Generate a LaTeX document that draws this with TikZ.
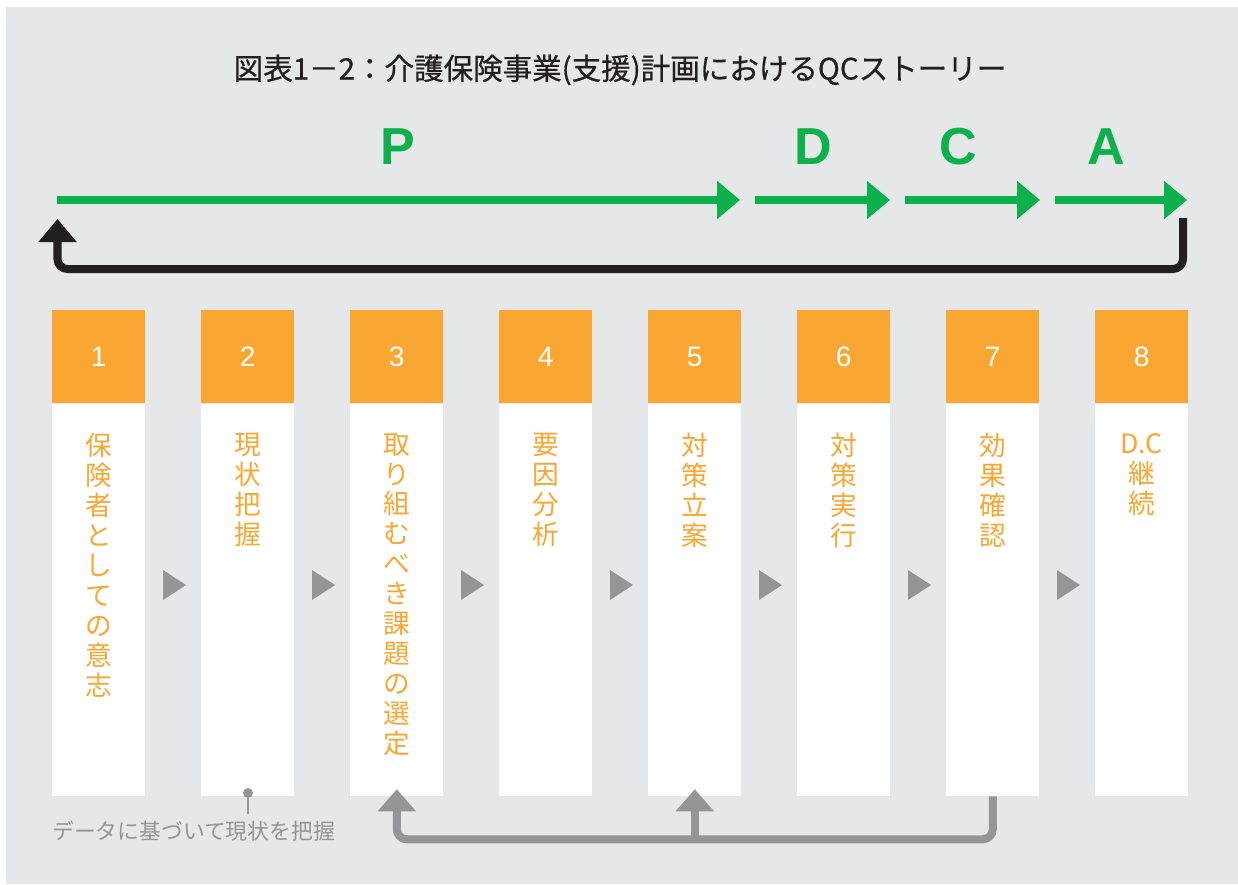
\documentclass[tikz,border=0pt]{standalone}
\usepackage{fontspec}
\setmainfont{Liberation Sans}
\newfontfamily\jp{Noto Sans CJK JP}
\newfontfamily\jptitle[FakeBold=0.6]{Noto Sans CJK JP}
\usetikzlibrary{arrows.meta}
\definecolor{qcgreen}{HTML}{0DB14B}
\definecolor{qcorange}{HTML}{F9A633}
\definecolor{qcblack}{HTML}{231F20}
\definecolor{qcgray}{HTML}{939598}
\definecolor{qcbg}{HTML}{E6E7E8}

\begin{document}
\begin{tikzpicture}[x=0.025cm,y=-0.025cm,
    numbox/.style={fill=qcorange,text=white,minimum width=2.325cm,minimum height=2.325cm,inner sep=0pt,anchor=north west,font=\fontsize{20}{20}\selectfont},
    colbox/.style={fill=white,minimum width=2.325cm,minimum height=9.8cm,inner sep=0pt,anchor=north},
    vtext/.style={text=qcorange,align=center,anchor=north,inner sep=0pt,font=\jp\fontsize{19}{21.3}\selectfont},
    pdca/.style={text=qcgreen,anchor=base,inner sep=0pt,font=\fontsize{37}{37}\selectfont\bfseries},
    flow/.style={qcgreen,line width=0.2cm,-{Triangle[length=0.575cm,width=0.925cm]}},
    back/.style={qcblack,line width=0.2cm,rounded corners=0.25cm,-{Triangle[length=0.575cm,width=0.925cm]}},
    check/.style={qcgray,line width=0.2cm,rounded corners=0.25cm},
    checktip/.style={check,-{Triangle[length=0.55cm,width=0.925cm]},shorten >=-0.175cm},
    nexttri/.style={fill=qcgray}]
    \useasboundingbox (0,0) rectangle (1238,884);
    \fill[white] (0,0) rectangle (1238,884);
    \fill[qcbg] (6,7) rectangle (1238,884);
    % title
    \node[text=qcblack,font=\jptitle\fontsize{21}{21}\selectfont] (title) at (620,70) {図表1－2：介護保険事業(支援)計画におけるQCストーリー};
    % PDCA
    \node[pdca] (P) at (398,164) {P};
    \node[pdca] (D) at (813,164) {D};
    \node[pdca] (C) at (958,164) {C};
    \node[pdca] (A) at (1106,164) {A};
    \coordinate (g0) at (57,200);
    \coordinate (g1) at (740,200);
    \coordinate (g2) at (755,200);
    \coordinate (g3) at (890,200);
    \coordinate (g4) at (905,200);
    \coordinate (g5) at (1040,200);
    \coordinate (g6) at (1055,200);
    \coordinate (g7) at (1187,200);
    \draw[flow] (g0)--(g1);
    \draw[flow] (g2)--(g3);
    \draw[flow] (g4)--(g5);
    \draw[flow] (g6)--(g7);
    \coordinate (r0) at (1183,218);
    \coordinate (r1) at (57.5,219);
    \draw[back] (r0)--(1183,269)-|(r1);
    % steps
    \node[numbox] (n1) at (52,310) {1};
    \node[numbox] (n2) at (201,310) {2};
    \node[numbox] (n3) at (350,310) {3};
    \node[numbox] (n4) at (499,310) {4};
    \node[numbox] (n5) at (648,310) {5};
    \node[numbox] (n6) at (797,310) {6};
    \node[numbox] (n7) at (946,310) {7};
    \node[numbox] (n8) at (1095,310) {8};
    \node[colbox] (w1) at (n1.south) {};
    \node[colbox] (w2) at (n2.south) {};
    \node[colbox] (w3) at (n3.south) {};
    \node[colbox] (w4) at (n4.south) {};
    \node[colbox] (w5) at (n5.south) {};
    \node[colbox] (w6) at (n6.south) {};
    \node[colbox] (w7) at (n7.south) {};
    \node[colbox] (w8) at (n8.south) {};
    \node[vtext] (t1) at (98.5,433) {保\\険\\者\\と\\し\\て\\の\\意\\志};
    \node[vtext] (t2) at (247.5,433) {現\\状\\把\\握};
    \node[vtext] (t3) at (396.5,433) {取\\り\\組\\む\\べ\\き\\課\\題\\の\\選\\定};
    \node[vtext] (t4) at (545.5,433) {要\\因\\分\\析};
    \node[vtext] (t5) at (694.5,433) {対\\策\\立\\案};
    \node[vtext] (t6) at (843.5,433) {対\\策\\実\\行};
    \node[vtext] (t7) at (992.5,433) {効\\果\\確\\認};
    \node[vtext] (t8) at (1141.5,433) {D.C\\継\\続};
    \fill[nexttri] (163,570)--(186,585)--(163,600)--cycle;
    \fill[nexttri] (312,570)--(335,585)--(312,600)--cycle;
    \fill[nexttri] (461,570)--(484,585)--(461,600)--cycle;
    \fill[nexttri] (610,570)--(633,585)--(610,600)--cycle;
    \fill[nexttri] (759,570)--(782,585)--(759,600)--cycle;
    \fill[nexttri] (908,570)--(931,585)--(908,600)--cycle;
    \fill[nexttri] (1057,570)--(1080,585)--(1057,600)--cycle;
    % check loop
    \draw[checktip] (w7.south)--++(0,43)-|(w3.south);
    \draw[checktip] (w5.south)++(0,43)--(w5.south);
    % note
    \node[circle,fill=qcgray,minimum size=0.25cm,inner sep=0pt] (dot) at (248,793) {};
    \draw[qcgray,line width=0.04cm] (dot.center)--++(0,21);
    \node[text=qcgray,anchor=north west,inner sep=0pt,font=\jp\fontsize{15.5}{15.5}\selectfont] (note) at (52,821) {データに基づいて現状を把握};
\end{tikzpicture}
\end{document}
